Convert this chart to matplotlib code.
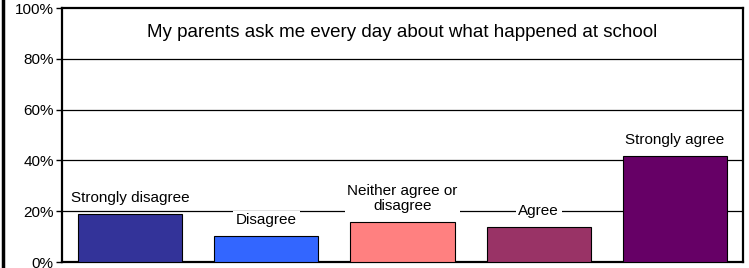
import matplotlib
matplotlib.use("Agg")
import matplotlib.pyplot as plt
from matplotlib.lines import Line2D

categories = ["Strongly disagree", "Disagree", "Neither agree or\ndisagree", "Agree", "Strongly agree"]
values = [19.0, 10.1, 15.6, 13.9, 41.9]
colors = ["#333399", "#3366FF", "#FF8080", "#993366", "#660066"]
yticks = [0, 20, 40, 60, 80, 100]
ytick_labels = ["0%", "20%", "40%", "60%", "80%", "100%"]
title = "My parents ask me every day about what happened at school"

plt.rcParams['font.family'] = ['Liberation Sans', 'DejaVu Sans']

fig = plt.figure(figsize=(7.49, 2.68), dpi=100)
ax = fig.add_axes([62/749, 6/268, (743-62)/749, (262-8)/268])

x = list(range(len(categories)))
ax.bar(x, values, width=0.765, color=colors, edgecolor="black", linewidth=0.8, zorder=3)
ax.set_xlim(-0.5, len(categories) - 0.5)
ax.set_ylim(0, 100)
ax.set_yticks(yticks)
ax.set_yticklabels(ytick_labels, fontsize=11)
ax.set_xticks([])
ax.tick_params(axis='y', direction='out', length=4, width=1, pad=2)
for yv in yticks[1:-1]:
    ax.axhline(yv, color="black", linewidth=0.9, zorder=1)
for s in ax.spines.values():
    s.set_linewidth(1.6)

for xi, v, lab in zip(x, values, categories):
    ax.annotate(lab, xy=(xi, v), xytext=(0, 6.5), textcoords="offset points",
                ha="center", va="bottom", fontsize=11, zorder=4, linespacing=1.15,
                bbox=dict(boxstyle="square,pad=0.18", facecolor="white", edgecolor="none"))

ax.text(0.5, 0.905, title, transform=ax.transAxes, ha="center", va="center", fontsize=13.5)

fig.add_artist(Line2D([3/749, 3/749], [0, 1], transform=fig.transFigure, color="black", linewidth=2.5))

fig.savefig("out.png", dpi=100)
